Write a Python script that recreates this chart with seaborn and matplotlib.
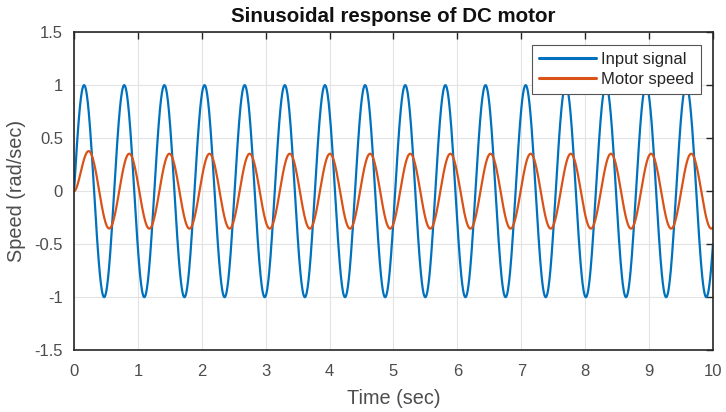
import numpy as np
import pandas as pd
import matplotlib
matplotlib.use("Agg")
import matplotlib.pyplot as plt
import seaborn as sns

# Simulation settings
t_end = 10.0
dt = 0.005
input_amplitude = 1.0
input_frequency = 10.0      # rad/s
motor_gain = 0.5            # steady-state speed per unit input
motor_time_constant = 0.1   # s

series_names = ["Input signal", "Motor speed"]
series_colors = ["#0072BD", "#D95319"]
x_ticks = [0, 1, 2, 3, 4, 5, 6, 7, 8, 9, 10]
y_ticks = [-1.5, -1, -0.5, 0, 0.5, 1, 1.5]
y_tick_labels = ["-1.5", "-1", "-0.5", "0", "0.5", "1", "1.5"]

# Input signal and first-order motor response (exact zero-order-hold step)
t = np.arange(0, t_end + dt / 2, dt)
u = input_amplitude * np.sin(input_frequency * t)
a = np.exp(-dt / motor_time_constant)
w = np.zeros_like(t)
for k in range(1, len(t)):
    u_mid = 0.5 * (u[k - 1] + u[k])
    w[k] = a * w[k - 1] + motor_gain * (1 - a) * u_mid

df = pd.DataFrame({
    "Time": np.concatenate([t, t]),
    "Value": np.concatenate([u, w]),
    "Series": [series_names[0]] * len(t) + [series_names[1]] * len(t),
})

sns.set_style("white")
plt.rcParams["font.family"] = ["Liberation Sans", "DejaVu Sans"]

fig = plt.figure(figsize=(7.26, 4.12), dpi=100)
ax = fig.add_axes([0.102, 0.150, 0.880, 0.772])

sns.lineplot(data=df, x="Time", y="Value", hue="Series",
             palette=dict(zip(series_names, series_colors)),
             linewidth=1.6, ax=ax, legend=True, estimator=None, sort=False)

ax.set_xlim(0, 10)
ax.set_ylim(-1.5, 1.5)
ax.set_xticks(x_ticks)
ax.set_yticks(y_ticks)
ax.set_yticklabels(y_tick_labels)

edge = "#262626"
label_color = "#4d4d4d"
ax.grid(True, color="#e3e3e3", linewidth=0.8)
ax.set_axisbelow(True)
for s in ax.spines.values():
    s.set_color(edge)
    s.set_linewidth(1.2)
    s.set_visible(True)
ax.tick_params(direction="in", length=5, width=1.0, color=edge,
               top=True, right=True, labelsize=12, labelcolor=label_color)
ax.tick_params(axis="y", pad=8)
ax.tick_params(axis="x", pad=10)

ax.set_xlabel("Time (sec)", fontsize=14.3, color=label_color, labelpad=7)
ax.set_ylabel("Speed (rad/sec)", fontsize=14.3, color=label_color, labelpad=6)
ax.set_title("Sinusoidal response of DC motor", fontsize=14.8, fontweight="bold",
             color="#111111", pad=7)

leg = ax.legend(loc="upper right", fontsize=12, frameon=True, fancybox=False,
                edgecolor="#555555", framealpha=1, borderpad=0.42,
                handlelength=3.4, handletextpad=0.3, labelspacing=0.3,
                borderaxespad=0, bbox_to_anchor=(0.981, 0.959))
leg.set_title(None)
leg.get_frame().set_linewidth(0.8)
for line in leg.get_lines():
    line.set_linewidth(2.2)

fig.savefig("out.png", dpi=100, facecolor="white")
